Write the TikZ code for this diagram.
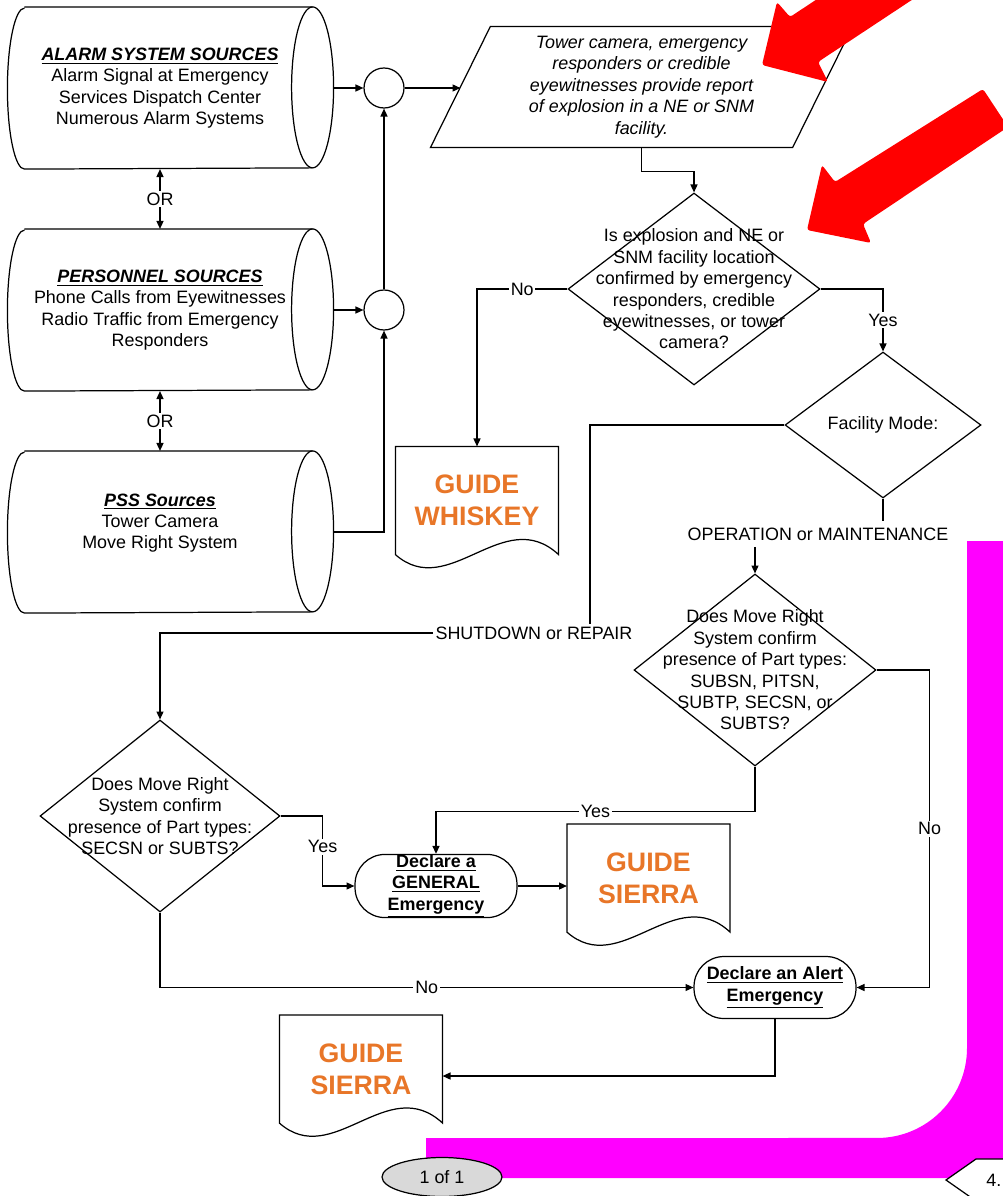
\documentclass[tikz,border=0pt]{standalone}
\usepackage{fontspec}
\setmainfont{Liberation Sans}
\usetikzlibrary{shapes.geometric,arrows.meta}
\definecolor{guideorange}{RGB}{232,118,40}
\definecolor{ovalgray}{RGB}{217,217,217}
\definecolor{bandmagenta}{RGB}{255,0,255}
\definecolor{callred}{RGB}{255,0,0}
\tikzset{
	txt/.style={font=\fontsize{10.2}{12.2}\selectfont, align=center},
	source/.style={txt, minimum width=6.08cm, minimum height=3.22cm, inner sep=0pt},
	junction/.style={circle, draw, minimum size=0.8cm, inner sep=0pt},
	decision/.style={txt, diamond, draw, inner sep=0pt},
	qtext/.style={txt, inner sep=0pt},
	terminal/.style={txt, draw, rounded corners=0.6cm, minimum width=3.24cm, minimum height=1.24cm, inner sep=0pt, font=\fontsize{10.2}{12.2}\selectfont\bfseries},
	guide/.style={minimum width=3.24cm, minimum height=2.14cm, inner sep=0pt, align=center, text=guideorange, font=\fontsize{15.2}{18.2}\selectfont\bfseries},
	lbl/.style={txt, fill=white, inner sep=1pt},
	arr/.style={-{Triangle[length=4.5pt,width=4pt]}},
}
\begin{document}
\begin{tikzpicture}[x=0.02cm, y=-0.02cm, line width=0.7pt]
	\fill[white] (0,0) rectangle (1003,1196);
	\useasboundingbox (0,0) rectangle (1003,1196);
	\fill[bandmagenta] (1015,541) -- (967,541) -- (967,1048) arc (0:-90:1.8cm) -- (426,1138) -- (426,1178) -- (1015,1178) -- cycle;

	\node[source] (alarm) at (160,88) {\underline{\textbf{\textit{ALARM SYSTEM SOURCES}}}\\Alarm Signal at Emergency\\Services Dispatch Center\\Numerous Alarm Systems};
	\node[source] (personnel) at (160,310) {\underline{\textbf{\textit{PERSONNEL SOURCES}}}\\Phone Calls from Eyewitnesses\\Radio Traffic from Emergency\\Responders};
	\node[source] (pss) at (160,532) {\underline{\textbf{\textit{PSS Sources}}}\\Tower Camera\\Move Right System\\\mbox{}};
	\foreach \s in {alarm,personnel,pss}
	{
		\draw ([xshift=0.34cm]\s.north west) -- (\s.north east) arc (90:-90:0.42cm and 1.61cm) -- ([xshift=0.34cm]\s.south west) arc (270:90:0.34cm and 1.61cm);
		\draw (\s.north east) arc (90:270:0.42cm and 1.61cm);
	}
	\node[junction] (j1) at (384,88) {};
	\node[junction] (j2) at (384,310) {};

	\node[txt, minimum width=7.22cm, minimum height=2.4cm, inner sep=0pt, font=\fontsize{10.2}{12.2}\selectfont\itshape] (report) at (641.5,87) {Tower camera, emergency\\responders or credible\\eyewitnesses provide report\\of explosion in a NE or SNM\\facility.};
	\draw ([xshift=0.6cm]report.north west) -- ([xshift=0.6cm]report.north east) -- ([xshift=-0.6cm]report.south east) -- ([xshift=-0.6cm]report.south west) -- cycle;

	\node[decision, minimum width=5.04cm, minimum height=3.84cm, label={[qtext]center:{Is explosion and NE or\\SNM facility location\\confirmed by emergency\\responders, credible\\eyewitnesses, or tower\\camera?}}] (q1) at (694,289) {};
	\node[decision, minimum width=3.92cm, minimum height=2.92cm] (q2) at (883,425) {Facility Mode:};
	\node[decision, minimum width=4.8cm, minimum height=3.84cm, label={[qtext]center:{Does Move Right\\System confirm\\presence of Part types:\\SECSN or SUBTS?}}] (q3) at (160,816) {};
	\node[decision, minimum width=4.84cm, minimum height=3.84cm, label={[qtext]center:{Does Move Right\\System confirm\\presence of Part types:\\SUBSN, PITSN,\\SUBTP, SECSN, or\\SUBTS?}}] (q4) at (755,670) {};

	\node[txt] (opmode) at (818,534) {OPERATION or MAINTENANCE};
	\node[lbl] (shut) at (534,633) {SHUTDOWN or REPAIR};

	\node[terminal] (general) at (436,886) {\underline{Declare a}\\\underline{GENERAL}\\\underline{Emergency}};
	\node[terminal] (alert) at (775,987.5) {\underline{Declare an Alert}\\\underline{Emergency}};

	\node[guide] (whiskey) at (477,500.5) {GUIDE\\WHISKEY};
	\node[guide] (sierraA) at (648.5,878) {GUIDE\\SIERRA};
	\node[guide] (sierraB) at (361,1069) {GUIDE\\SIERRA};
	\foreach \d in {whiskey,sierraA,sierraB}
		\draw (\d.north east) -- (\d.north west) -- (\d.south west) .. controls +(1.07cm,-0.94cm) and +(-1.1cm,1.02cm) .. (\d.south east) -- cycle;

	\draw[{Triangle[length=4.5pt,width=4pt]}-{Triangle[length=4.5pt,width=4pt]}] (alarm.south) -- node[lbl]{OR} (personnel.north);
	\draw[{Triangle[length=4.5pt,width=4pt]}-{Triangle[length=4.5pt,width=4pt]}] (personnel.south) -- node[lbl]{OR} (pss.north);
	\draw[arr] ([xshift=0.42cm]alarm.east) -- (j1);
	\draw[arr] ([xshift=0.42cm]personnel.east) -- (j2);
	\draw[arr] ([xshift=0.42cm]pss.east) -| (j2);
	\draw[arr] (j2) -- (j1);
	\draw[arr] (j1) -- (j1 -| report.west);
	\draw[arr] (report.south) -- ++(0,24) -| (q1.north);
	\draw[arr] (q1.west) -| node[lbl, pos=0.25]{No} (whiskey.north);
	\draw[arr] (q1.east) -| node[lbl, pos=0.75]{Yes} (q2.north);
	\draw (q2.west) -| ([xshift=1.12cm]shut.north);
	\draw[arr] (shut.west) -| (q3.north);
	\draw (q2.south) -- (q2.south |- opmode.north);
	\draw[arr] (opmode.south -| q4.north) -- (q4.north);
	\draw[arr] (q4.east) -- ++(53,0) |- node[lbl, pos=0.25]{No} (alert.east);
	\draw[arr] (q4.south) -- ++(0,45) -| node[lbl, pos=0.25]{Yes} (general.north);
	\draw[arr] (q3.east) -- ++(42,0) |- node[lbl, pos=0.22]{Yes} (general.west);
	\draw[arr] (q3.south) |- node[lbl, pos=0.75]{No} (alert.west);
	\draw[arr] (general.east) -- (general.east -| sierraA.west);
	\draw[arr] (alert.south) |- ([yshift=-0.14cm]sierraB.east);

	\node[txt, ellipse, draw, fill=ovalgray, minimum width=2.4cm, minimum height=0.78cm, inner sep=0pt] (page) at (442,1177) {1 of 1};
	\draw[fill=white] (1015,1159) -- (976,1159) -- (946,1180) -- (976,1201) -- (1015,1201);
	\node[txt, anchor=west] (next) at (980,1180) {4.};

	\fill[callred, rounded corners=1.5pt] (762,65) -- (777,2) -- (790,17) -- (846,-20) -- (942,-20) -- (818,62) -- (828,82) -- cycle;
	\fill[callred, rounded corners=1.5pt] (807,230) -- (822,165) -- (835,182) -- (983,89) -- (1008,127) -- (863,224) -- (871,243) -- cycle;
\end{tikzpicture}
\end{document}
